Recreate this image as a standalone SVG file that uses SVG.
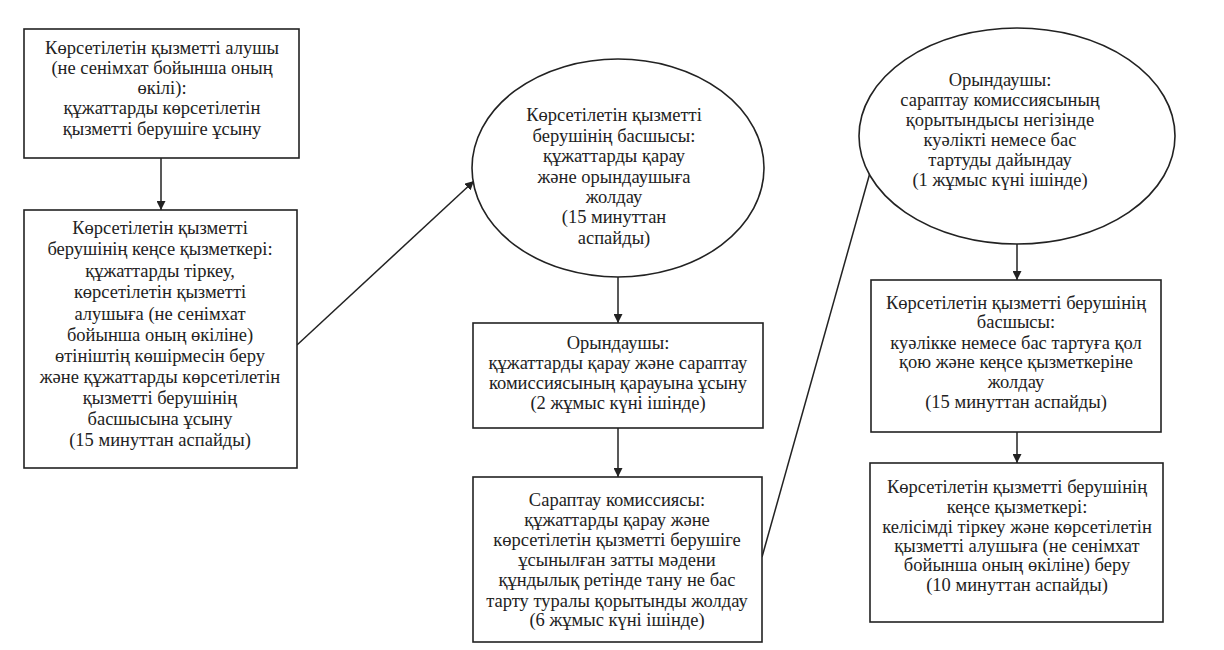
<svg xmlns="http://www.w3.org/2000/svg" width="1224" height="650" viewBox="0 0 1224 650">
<style>
.n{fill:#fff;stroke:#222;stroke-width:1.6}
.t{font-family:"Liberation Serif","Times New Roman","DejaVu Serif",serif;font-size:18.5px;fill:#222;text-anchor:middle}
.c{stroke:#222;stroke-width:1.5;fill:none;marker-end:url(#a)}
</style>
<defs>
<marker id="a" viewBox="0 0 10 10" refX="10" refY="5" markerWidth="9" markerHeight="9" orient="auto" markerUnits="userSpaceOnUse">
<path d="M0,0 L10,5 L0,10 z" fill="#222"/>
</marker>
</defs>
<rect width="1224" height="650" fill="#fff"/>
<g id="connectors">
<line class="c" x1="161" y1="158" x2="161" y2="210"/>
<line class="c" x1="297" y1="345" x2="474" y2="181"/>
<line class="c" x1="618" y1="277" x2="618" y2="323"/>
<line class="c" x1="618" y1="428" x2="618" y2="477"/>
<line class="c" x1="762" y1="557" x2="873" y2="162"/>
<line class="c" x1="1017" y1="244" x2="1017" y2="280"/>
<line class="c" x1="1017" y1="432" x2="1017" y2="463"/>
</g>
<g id="n1">
<rect class="n" x="24" y="29" width="275" height="129"/>
<text class="t"><tspan x="162" y="54">Көрсетілетін қызметті алушы</tspan><tspan x="162" y="74">(не сенімхат бойынша оның</tspan><tspan x="162" y="94">өкілі):</tspan><tspan x="162" y="114">құжаттарды көрсетілетін</tspan><tspan x="162" y="135">қызметті берушіге ұсыну</tspan></text>
</g>
<g id="n2">
<rect class="n" x="24" y="210" width="273" height="258"/>
<text class="t"><tspan x="160" y="234">Көрсетілетін қызметті</tspan><tspan x="160" y="255">берушінің кеңсе қызметкері:</tspan><tspan x="160" y="277">құжаттарды тіркеу,</tspan><tspan x="160" y="298">көрсетілетін қызметті</tspan><tspan x="160" y="320">алушыға  (не сенімхат</tspan><tspan x="160" y="341">бойынша оның өкіліне)</tspan><tspan x="160" y="362">өтініштің көшірмесін беру</tspan><tspan x="160" y="383">және құжаттарды көрсетілетін</tspan><tspan x="160" y="404">қызметті берушінің</tspan><tspan x="160" y="425">басшысына ұсыну</tspan><tspan x="160" y="446">(15 минуттан аспайды)</tspan></text>
</g>
<g id="n3">
<ellipse class="n" cx="618" cy="168" rx="146" ry="109"/>
<text class="t"><tspan x="614" y="121">Көрсетілетін қызметті</tspan><tspan x="614" y="142">берушінің басшысы:</tspan><tspan x="614" y="162">құжаттарды қарау</tspan><tspan x="614" y="183">және орындаушыға</tspan><tspan x="614" y="203">жолдау</tspan><tspan x="614" y="223">(15 минуттан</tspan><tspan x="614" y="244">аспайды)</tspan></text>
</g>
<g id="n4">
<rect class="n" x="473" y="323" width="290" height="105"/>
<text class="t"><tspan x="618" y="349">Орындаушы:</tspan><tspan x="618" y="369">құжаттарды қарау және сараптау</tspan><tspan x="618" y="389">комиссиясының қарауына ұсыну</tspan><tspan x="618" y="409">(2 жұмыс күні ішінде)</tspan></text>
</g>
<g id="n5">
<rect class="n" x="473" y="477" width="289" height="165"/>
<text class="t"><tspan x="617" y="506">Сараптау комиссиясы:</tspan><tspan x="617" y="526">құжаттарды қарау және</tspan><tspan x="617" y="546">көрсетілетін қызметті берушіге</tspan><tspan x="617" y="566">ұсынылған затты мәдени</tspan><tspan x="617" y="586">құндылық ретінде тану не бас</tspan><tspan x="617" y="607">тарту туралы қорытынды жолдау</tspan><tspan x="617" y="626">(6 жұмыс күні ішінде)</tspan></text>
</g>
<g id="n6">
<ellipse class="n" cx="1017" cy="136" rx="158" ry="108"/>
<text class="t"><tspan x="1000" y="86">Орындаушы:</tspan><tspan x="1000" y="106">сараптау комиссиясының</tspan><tspan x="1000" y="126">қорытындысы негізінде</tspan><tspan x="1000" y="146">куәлікті немесе бас</tspan><tspan x="1000" y="166">тартуды дайындау</tspan><tspan x="1000" y="186">(1 жұмыс күні ішінде)</tspan></text>
</g>
<g id="n7">
<rect class="n" x="871" y="280" width="290" height="152"/>
<text class="t"><tspan x="1016" y="309">Көрсетілетін қызметті берушінің</tspan><tspan x="1016" y="328">басшысы:</tspan><tspan x="1016" y="349">куәлікке немесе бас тартуға қол</tspan><tspan x="1016" y="368">қою және кеңсе қызметкеріне</tspan><tspan x="1016" y="388">жолдау</tspan><tspan x="1016" y="408">(15 минуттан аспайды)</tspan></text>
</g>
<g id="n8">
<rect class="n" x="870" y="463" width="293" height="159"/>
<text class="t"><tspan x="1017" y="493">Көрсетілетін қызметті берушінің</tspan><tspan x="1017" y="513">кеңсе қызметкері:</tspan><tspan x="1017" y="533">келісімді тіркеу және көрсетілетін</tspan><tspan x="1017" y="552">қызметті алушыға (не сенімхат</tspan><tspan x="1017" y="571">бойынша оның өкіліне) беру</tspan><tspan x="1017" y="591">(10 минуттан аспайды)</tspan></text>
</g>
</svg>
